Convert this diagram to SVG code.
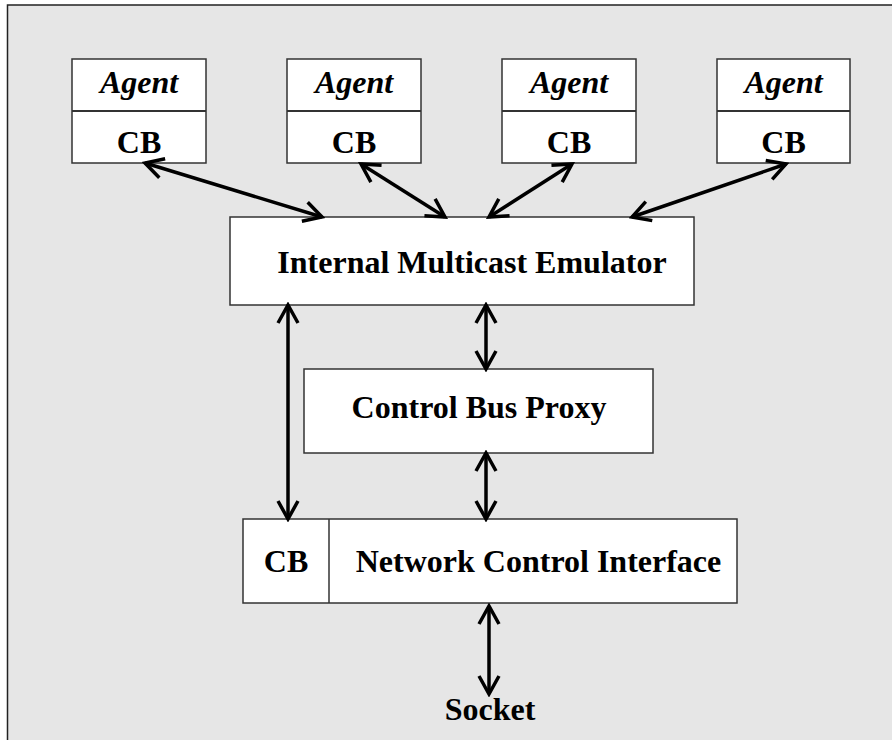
<svg xmlns="http://www.w3.org/2000/svg" width="892" height="740" viewBox="0 0 892 740">
<style>
.box{fill:#fff;stroke:#333;stroke-width:1.5}
.t{font-family:"Liberation Serif","Times New Roman",serif;font-weight:bold;font-size:32px;fill:#000;text-anchor:middle}
.i{font-style:italic}
.c{stroke:#000;stroke-width:3.5;fill:none;marker-start:url(#ah);marker-end:url(#ah)}
</style>
<defs>
<marker id="ah" markerUnits="userSpaceOnUse" markerWidth="26" markerHeight="26" viewBox="0 0 26 26" refX="23" refY="13" orient="auto-start-reverse">
<path d="M5,3 L23,13 L5,23" fill="none" stroke="#000" stroke-width="3.5"/>
</marker>
</defs>
<rect x="0" y="0" width="892" height="740" fill="#fff"/>
<rect x="7.5" y="5" width="900" height="760" fill="#e6e6e6" stroke="#222" stroke-width="1.5"/>
<g id="agent1"><rect class="box" x="72" y="59" width="134" height="104"/><line x1="72" y1="111" x2="206" y2="111" stroke="#333" stroke-width="2"/><text class="t i" x="139" y="93">Agent</text><text class="t" x="139" y="153">CB</text></g>
<g id="agent2"><rect class="box" x="287" y="59" width="134" height="104"/><line x1="287" y1="111" x2="421" y2="111" stroke="#333" stroke-width="2"/><text class="t i" x="354" y="93">Agent</text><text class="t" x="354" y="153">CB</text></g>
<g id="agent3"><rect class="box" x="502" y="59" width="134" height="104"/><line x1="502" y1="111" x2="636" y2="111" stroke="#333" stroke-width="2"/><text class="t i" x="569" y="93">Agent</text><text class="t" x="569" y="153">CB</text></g>
<g id="agent4"><rect class="box" x="717" y="59" width="133" height="104"/><line x1="717" y1="111" x2="850" y2="111" stroke="#333" stroke-width="2"/><text class="t i" x="783.5" y="93">Agent</text><text class="t" x="783.5" y="153">CB</text></g>
<g id="ime"><rect class="box" x="230" y="217" width="464" height="88"/><text class="t" x="472" y="273">Internal Multicast Emulator</text></g>
<g id="cbp"><rect class="box" x="304" y="369" width="349" height="84"/><text class="t" x="479" y="418">Control Bus Proxy</text></g>
<g id="nci"><rect class="box" x="243" y="519" width="494" height="84"/><line x1="329" y1="519" x2="329" y2="603" stroke="#333" stroke-width="1.5"/><text class="t" x="286" y="572">CB</text><text class="t" x="538.5" y="572">Network Control Interface</text></g>
<g id="socket"><text class="t" x="490" y="720">Socket</text></g>
<g id="connectors">
<line class="c" x1="145" y1="163" x2="322" y2="217"/>
<line class="c" x1="361" y1="164" x2="445" y2="217"/>
<line class="c" x1="489" y1="217" x2="572" y2="164"/>
<line class="c" x1="632" y1="217" x2="786" y2="164"/>
<line class="c" x1="288" y1="305" x2="288" y2="519"/>
<line class="c" x1="486" y1="305" x2="486" y2="369"/>
<line class="c" x1="486" y1="453" x2="486" y2="519"/>
<line class="c" x1="489" y1="606" x2="489" y2="694"/>
</g>
</svg>
